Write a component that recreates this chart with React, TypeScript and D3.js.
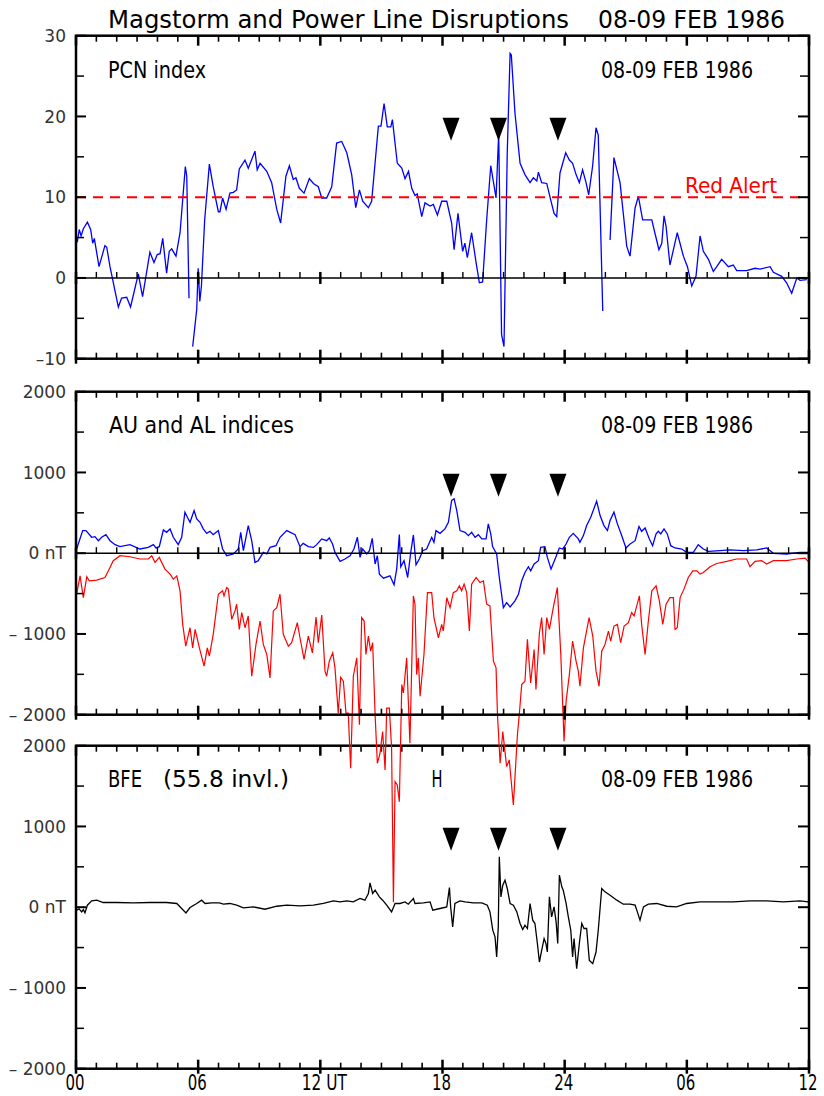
import React from "react";
import * as d3 from "d3";

type Pt = [number, number | null];

// ---- PCN index (hour, value); null = gap
const PCN: Pt[] = [
  [0.06,4.4],[0.16,6.0],[0.25,5.2],[0.36,6.1],[0.56,6.9],[0.72,6.0],[0.82,4.3],[0.9,4.9],[1.13,1.4],[1.42,4.0],[1.51,3.8],[1.67,1.4],[2.08,-3.6],[2.24,-2.5],[2.49,-2.4],[2.68,-3.6],[3.06,0.5],[3.27,-2.3],[3.63,3.2],[3.83,1.9],[3.99,2.9],[4.13,3.0],[4.26,4.9],[4.45,0.6],[4.58,3.3],[4.7,3.6],[4.91,2.7],[5.11,5.6],[5.37,13.8],[5.44,12.6],[5.55,-2.5],[5.64,null],[5.73,-8.5],[5.93,-3.9],[6.0,1.2],[6.08,-2.9],[6.16,-1.0],[6.32,7.2],[6.55,14.1],[6.74,11.3],[6.99,8.2],[7.07,8.2],[7.2,9.9],[7.37,8.5],[7.56,10.5],[7.73,10.6],[7.89,10.9],[8.02,13.5],[8.3,14.6],[8.46,13.6],[8.79,15.7],[8.9,13.4],[9.04,14.2],[9.37,13.2],[9.61,11.8],[9.86,8.5],[10.05,6.8],[10.31,12.6],[10.48,13.9],[10.67,12.2],[10.8,12.4],[10.97,11.1],[11.2,10.5],[11.46,12.3],[11.66,11.7],[11.9,11.3],[12.07,9.9],[12.31,9.9],[12.56,11.3],[12.8,16.7],[13.05,16.9],[13.3,15.5],[13.54,12.8],[13.74,8.7],[13.92,10.9],[14.08,9.5],[14.36,8.7],[14.52,9.5],[14.85,18.8],[14.98,18.8],[15.13,21.6],[15.29,18.7],[15.46,18.7],[15.54,19.6],[15.78,14.2],[16.0,13.6],[16.16,12.3],[16.33,13.2],[16.49,11.1],[16.65,10.2],[16.76,10.4],[16.98,7.6],[17.14,9.3],[17.39,8.9],[17.55,9.1],[17.75,7.8],[17.96,9.5],[18.21,9.5],[18.45,6.8],[18.57,3.5],[18.76,8.0],[18.99,3.3],[19.1,4.3],[19.22,2.5],[19.43,5.6],[19.65,1.9],[19.81,-0.6],[19.97,-0.5],[20.17,7.2],[20.37,13.9],[20.63,9.9],[20.76,17.9],[20.9,-7.0],[21.02,-8.5],[21.18,15.5],[21.32,27.8],[21.38,27.6],[21.56,20.4],[21.81,14.2],[22.05,12.8],[22.3,11.8],[22.46,12.4],[22.63,12.0],[22.71,13.1],[22.87,11.8],[23.12,11.7],[23.31,9.7],[23.48,8.0],[23.61,7.6],[23.77,13.0],[24.05,15.5],[24.23,14.6],[24.39,14.2],[24.56,12.8],[24.72,11.8],[24.88,13.4],[25.05,11.8],[25.18,10.3],[25.37,13.8],[25.54,18.6],[25.65,17.7],[25.87,-4.1],[26.05,null],[26.23,4.7],[26.42,14.9],[26.72,11.8],[27.05,3.9],[27.21,2.7],[27.46,8.7],[27.62,10.1],[27.83,7.2],[28.11,7.2],[28.28,7.2],[28.39,6.0],[28.63,3.5],[28.77,4.3],[28.88,7.7],[28.98,6.4],[29.17,1.6],[29.53,5.6],[29.83,2.7],[30.03,1.4],[30.24,-1.0],[30.45,0.2],[30.65,5.2],[30.81,3.3],[31.06,2.3],[31.3,0.8],[31.47,1.4],[31.71,2.3],[32.04,1.4],[32.28,1.6],[32.45,0.9],[32.94,0.9],[33.35,1.2],[33.6,1.1],[34.09,1.4],[34.25,0.7],[34.66,0.2],[34.9,-0.6],[35.15,-1.9],[35.4,0],[35.56,-0.3],[35.89,-0.2]
];

// ---- AU index (nT)
const AU: Pt[] = [
  [0.03,52],[0.33,280],[0.49,280],[0.77,197],[0.93,205],[1.1,155],[1.26,197],[1.47,230],[1.67,155],[1.92,106],[2.16,81],[2.65,106],[3.14,52],[3.55,72],[3.8,106],[3.93,65],[4.09,81],[4.29,289],[4.45,259],[4.62,301],[4.78,197],[5.02,106],[5.19,197],[5.35,508],[5.47,445],[5.6,383],[5.8,529],[5.93,425],[6.09,383],[6.25,301],[6.42,246],[6.58,271],[6.74,230],[6.99,280],[7.2,52],[7.4,-31],[7.73,-10],[7.97,52],[8.09,259],[8.22,31],[8.46,342],[8.63,155],[8.79,-114],[8.95,-93],[9.2,10],[9.37,-10],[9.53,72],[9.82,93],[10.02,197],[10.35,280],[10.76,230],[11.0,81],[11.16,122],[11.41,81],[11.66,72],[11.82,106],[12.07,177],[12.31,155],[12.44,189],[12.6,114],[12.72,10],[12.97,-102],[13.21,-72],[13.46,-31],[13.65,52],[13.82,197],[13.95,-52],[14.08,52],[14.28,-10],[14.41,31],[14.55,184],[14.69,-134],[14.8,-31],[14.9,-259],[15.1,-309],[15.42,-280],[15.62,-392],[15.75,-197],[15.88,230],[15.95,-168],[16.11,-93],[16.29,-301],[16.44,10],[16.57,226],[16.7,-143],[16.86,-72],[17.03,31],[17.22,52],[17.47,197],[17.58,134],[17.68,280],[17.88,246],[18.12,301],[18.29,383],[18.45,653],[18.57,674],[18.7,529],[18.86,280],[19.11,259],[19.27,218],[19.43,259],[19.6,197],[19.76,230],[19.93,177],[20.14,177],[20.25,363],[20.37,239],[20.46,81],[20.66,-10],[20.79,-301],[20.99,-674],[21.15,-612],[21.32,-665],[21.56,-591],[21.73,-508],[21.89,-342],[22.05,-239],[22.22,-168],[22.33,-218],[22.5,-134],[22.71,-93],[22.82,72],[23.03,81],[23.15,-52],[23.33,-197],[23.53,-72],[23.74,65],[23.9,52],[24.07,114],[24.23,197],[24.42,246],[24.67,177],[24.75,134],[24.92,218],[25.08,342],[25.28,445],[25.57,644],[25.74,466],[25.93,342],[26.1,280],[26.23,404],[26.42,508],[26.59,363],[26.8,218],[27.01,65],[27.21,114],[27.46,155],[27.65,330],[27.78,271],[27.95,313],[28.16,177],[28.32,93],[28.49,239],[28.6,271],[28.72,239],[28.88,301],[29.04,239],[29.21,93],[29.42,65],[29.75,52],[29.99,10],[30.32,10],[30.56,106],[30.81,52],[31.06,22],[31.63,31],[32.12,40],[32.78,31],[33.43,40],[33.92,65],[34.25,-2],[34.9,-10],[35.56,10],[36.0,10]
];

// ---- AL index (nT)
const AL: Pt[] = [
  [0.03,-508],[0.2,-280],[0.36,-550],[0.53,-292],[0.65,-342],[1.02,-334],[1.42,-301],[1.59,-218],[1.83,-93],[2.16,-31],[2.65,-44],[3.14,-72],[3.55,-72],[3.72,-31],[3.88,-114],[4.09,-52],[4.37,-197],[4.62,-259],[4.78,-321],[4.95,-280],[5.11,-466],[5.24,-881],[5.39,-1151],[5.6,-923],[5.73,-1172],[5.85,-943],[6.06,-1172],[6.29,-1399],[6.45,-1172],[6.55,-1275],[6.74,-1005],[6.99,-508],[7.2,-466],[7.27,-529],[7.4,-425],[7.48,-445],[7.65,-819],[7.81,-715],[7.89,-632],[8.02,-943],[8.14,-736],[8.3,-923],[8.46,-777],[8.63,-1524],[8.84,-1130],[9.04,-840],[9.2,-1130],[9.37,-1254],[9.53,-1545],[9.69,-715],[9.86,-674],[10.02,-508],[10.18,-1005],[10.43,-1151],[10.59,-1109],[10.87,-861],[11.0,-1047],[11.2,-1316],[11.41,-1026],[11.61,-1234],[11.79,-790],[11.9,-1109],[12.07,-765],[12.23,-1461],[12.31,-1524],[12.44,-1337],[12.61,-1234],[12.72,-1420],[12.88,-1980],[13.0,-1536],[13.13,-1586],[13.26,-1980],[13.37,-1980],[13.49,-2664],[13.62,-1524],[13.79,-1296],[13.92,-2124],[14.03,-798],[14.15,-840],[14.24,-1254],[14.36,-1026],[14.47,-1213],[14.57,-1109],[14.69,-2000],[14.8,-2602],[14.93,-2478],[15.06,-2208],[15.18,-2684],[15.26,-1918],[15.39,-1918],[15.5,-2415],[15.59,-4322],[15.67,-2830],[15.78,-2871],[15.88,-3078],[16.0,-1627],[16.08,-1731],[16.24,-1296],[16.4,-2353],[16.57,-529],[16.65,-632],[16.73,-1503],[16.81,-1296],[16.9,-1772],[17.09,-1254],[17.26,-488],[17.47,-488],[17.58,-798],[17.8,-1047],[17.96,-881],[18.04,-964],[18.21,-550],[18.37,-674],[18.53,-488],[18.7,-466],[18.83,-404],[18.94,-466],[19.06,-383],[19.19,-488],[19.32,-964],[19.43,-383],[19.65,-301],[19.84,-363],[20.01,-342],[20.17,-632],[20.33,-653],[20.5,-1337],[20.63,-1420],[20.7,-2000],[20.83,-2602],[20.96,-2208],[21.15,-2643],[21.28,-2560],[21.48,-3119],[21.68,-2249],[21.77,-2000],[21.89,-1627],[22.05,-1586],[22.17,-1067],[22.33,-1607],[22.5,-1192],[22.59,-1689],[22.76,-985],[22.87,-798],[22.99,-1254],[23.12,-798],[23.25,-943],[23.44,-674],[23.64,-425],[23.81,-1254],[23.97,-2330],[24.07,-1835],[24.23,-1503],[24.39,-1088],[24.56,-1337],[24.67,-1461],[24.75,-1648],[24.92,-1172],[25.2,-798],[25.38,-1026],[25.54,-1461],[25.69,-1648],[25.82,-1213],[25.98,-1130],[26.15,-964],[26.26,-1088],[26.42,-902],[26.59,-881],[26.75,-1109],[26.92,-902],[27.13,-861],[27.29,-736],[27.41,-777],[27.67,-529],[27.78,-881],[27.95,-1254],[28.11,-840],[28.28,-466],[28.49,-404],[28.65,-591],[28.82,-881],[28.98,-632],[29.17,-550],[29.34,-550],[29.42,-943],[29.53,-923],[29.67,-550],[29.86,-445],[30.07,-301],[30.29,-218],[30.49,-218],[30.65,-259],[30.81,-239],[31.14,-168],[31.47,-127],[31.96,-102],[32.45,-72],[32.94,-72],[33.1,-168],[33.35,-102],[33.68,-93],[33.92,-134],[34.25,-93],[34.9,-93],[35.4,-72],[35.81,-60],[36.0,-114]
];

// ---- BFE H component (nT)
const BFE: Pt[] = [
  [0.03,-37],[0.15,-20],[0.28,-58],[0.36,-30],[0.44,-70],[0.56,25],[0.77,78],[1.02,87],[1.34,58],[2.0,58],[2.81,53],[3.63,58],[4.45,58],[4.95,46],[5.19,-16],[5.4,-71],[5.6,-4],[5.93,46],[6.17,87],[6.34,46],[6.66,53],[7.04,53],[7.24,37],[7.56,46],[7.89,25],[8.22,-9],[8.71,4],[9.28,-25],[9.86,12],[10.35,25],[11.0,16],[11.66,25],[12.15,46],[12.64,78],[12.97,66],[13.3,78],[13.62,66],[13.95,108],[14.19,87],[14.36,170],[14.44,301],[14.57,170],[14.69,211],[14.9,128],[15.06,87],[15.26,25],[15.5,-58],[15.67,46],[15.91,46],[16.16,66],[16.32,37],[16.57,108],[16.65,46],[17.06,53],[17.39,66],[17.52,-37],[17.88,-16],[18.21,4],[18.34,244],[18.4,4],[18.5,-244],[18.61,46],[18.86,78],[19.11,66],[19.51,53],[19.93,53],[20.2,25],[20.33,-58],[20.47,-285],[20.58,-368],[20.66,-617],[20.74,-244],[20.79,624],[20.87,128],[20.96,273],[21.07,335],[21.18,232],[21.32,46],[21.48,25],[21.65,-58],[21.81,-202],[21.94,-277],[22.05,-223],[22.17,-264],[22.3,46],[22.43,-161],[22.54,-202],[22.66,-450],[22.76,-679],[22.87,-534],[22.99,-388],[23.08,-450],[23.15,-555],[23.25,128],[23.36,-120],[23.48,4],[23.58,-182],[23.66,-450],[23.74,397],[23.86,252],[23.93,211],[24.07,46],[24.18,-120],[24.3,-285],[24.39,-617],[24.46,-388],[24.59,-761],[24.72,-450],[24.84,-202],[24.95,-264],[25.08,-264],[25.21,-658],[25.38,-699],[25.54,-555],[25.65,-285],[25.82,232],[25.98,190],[26.23,149],[26.56,87],[26.88,37],[27.21,37],[27.46,25],[27.57,-58],[27.7,-161],[27.87,4],[28.11,37],[28.52,46],[29.01,12],[29.5,4],[29.99,46],[30.65,66],[31.47,66],[32.28,66],[33.1,78],[33.92,78],[34.74,66],[35.56,78],[35.97,66]
];

// ---- markers, thresholds, ticks
const MARKER_HOURS = [18.42, 20.75, 23.67];
const RED_ALERT = 10;
const X_TICK_HOURS = [0, 6, 12, 18, 24, 30, 36];
const X_TICK_LABELS = ["00", "06", "12 UT", "18", "24", "06", "12"];
const PCN_TICKS = [30, 20, 10, 0, -10];
const PCN_TICK_LABELS = ["30", "20", "10", "0", "\u201310"];
const PCN_MINOR = [25, 15, 5, -5];
const NT_TICKS = [2000, 1000, 0, -1000, -2000];
const NT_TICK_LABELS = ["2000", "1000", "0 nT", "\u2013 1000", "\u2013 2000"];
const NT_MINOR = [1500, 500, -500, -1500];

const NARROW = "'Liberation Sans Narrow','Arial Narrow','DejaVu Sans Condensed','Roboto Condensed','Liberation Sans',sans-serif";
const TICKFONT = "'DejaVu Sans','Verdana',sans-serif";

const X0 = 76, X1 = 809;
const PH = 323;

function Panel({ top, domain, ticks, tickLabels, minor, zero, children }: any) {
  const bottom = top + PH;
  const x = d3.scaleLinear().domain([0, 36]).range([X0, X1]);
  const y = d3.scaleLinear().domain(domain).range([bottom, top]);
  const hours = d3.range(0, 37);
  return (
    <g>
      {children(x, y)}
      <rect x={X0} y={top} width={X1 - X0} height={PH} fill="none" stroke="#000" strokeWidth={2.5} />
      {hours.map((h) => {
        const major = h % 6 === 0;
        const xx = x(h);
        return (
          <g key={"xt" + h}>
            <line x1={xx} x2={xx} y1={top} y2={top + (major ? 10 : 6)} stroke="#000" strokeWidth={major ? 2.5 : 1.6} />
            <line x1={xx} x2={xx} y1={bottom - (major ? 9 : 6)} y2={bottom + (major ? 5 : 0)} stroke="#000" strokeWidth={major ? 2.5 : 1.6} />
          </g>
        );
      })}
      {ticks.map((v: number, i: number) => (
        <g key={"yt" + v}>
          <line x1={X0} x2={X0 + 10} y1={y(v)} y2={y(v)} stroke="#000" strokeWidth={2} />
          <line x1={X1 - 11} x2={X1} y1={y(v)} y2={y(v)} stroke="#000" strokeWidth={2} />
          <text x={66} y={y(v)} dy="0.36em" textAnchor="end" fontFamily={TICKFONT} fontSize={17} fill="#333">
            {tickLabels[i]}
          </text>
        </g>
      ))}
      {minor.map((v: number) => (
        <g key={"ym" + v}>
          <line x1={X0} x2={X0 + 8} y1={y(v)} y2={y(v)} stroke="#000" strokeWidth={1.5} />
          <line x1={X1 - 9} x2={X1} y1={y(v)} y2={y(v)} stroke="#000" strokeWidth={1.5} />
        </g>
      ))}
      {zero && (
        <g>
          <line x1={X0} x2={X1} y1={y(0)} y2={y(0)} stroke="#000" strokeWidth={1.4} />
          {hours.map((h) => {
            const major = h % 6 === 0;
            return (
              <line key={"z" + h} x1={x(h)} x2={x(h)} y1={y(0) - 6} y2={y(0) + (major ? 6 : 0)} stroke="#000" strokeWidth={major ? 2.5 : 1.4} />
            );
          })}
        </g>
      )}
      {MARKER_HOURS.map((h) => {
        const cx = x(h);
        const t = top + 82;
        return <path key={"m" + h} d={`M${cx - 8.5},${t}L${cx + 8.5},${t}L${cx},${t + 23}Z`} fill="#000" />;
      })}
    </g>
  );
}

function linePath(x: any, y: any, data: Pt[]) {
  const gen = d3
    .line<Pt>()
    .defined((d) => d[1] !== null)
    .x((d) => x(d[0]))
    .y((d) => y(d[1] as number));
  return gen(data) || "";
}

export default function App() {
  const tops = [35.7, 391.7, 745.7];
  const bottom3 = tops[2] + PH;
  const xs = d3.scaleLinear().domain([0, 36]).range([X0, X1]);
  return (
    <svg width={824} height={1096} style={{ position: "absolute", left: 0, top: 0, background: "#fff" }}>
      <rect x={0} y={0} width={824} height={1096} fill="#fff" />
      <text x={108} y={28} fontFamily={NARROW} fontSize={25} textLength={461} lengthAdjust="spacingAndGlyphs">
        Magstorm and Power Line Disruptions
      </text>
      <text x={598} y={28} fontFamily={NARROW} fontSize={25} textLength={187} lengthAdjust="spacingAndGlyphs">
        08-09 FEB 1986
      </text>

      {/* Panel 1: PCN */}
      <Panel top={tops[0]} domain={[-10, 30]} ticks={PCN_TICKS} tickLabels={PCN_TICK_LABELS} minor={PCN_MINOR} zero={true}>
        {(x: any, y: any) => (
          <g>
            <path d={linePath(x, y, PCN)} fill="none" stroke="#0000ff" strokeWidth={1.3} />
            <line x1={X0} x2={X1} y1={y(RED_ALERT)} y2={y(RED_ALERT)} stroke="#ff0000" strokeWidth={2} strokeDasharray="10,7" />
            <text x={685} y={193.3} fontFamily={NARROW} fontSize={21} fill="#ff0000" textLength={92} lengthAdjust="spacingAndGlyphs">
              Red Alert
            </text>
          </g>
        )}
      </Panel>
      <text x={108} y={77.7} fontFamily={NARROW} fontSize={23} textLength={98} lengthAdjust="spacingAndGlyphs">PCN index</text>
      <text x={601} y={77.7} fontFamily={NARROW} fontSize={23} textLength={152} lengthAdjust="spacingAndGlyphs">08-09 FEB 1986</text>

      {/* Panel 3: BFE (drawn before panel 2 so AL overflow sits on top) */}
      <Panel top={tops[2]} domain={[-2000, 2000]} ticks={NT_TICKS} tickLabels={NT_TICK_LABELS} minor={NT_MINOR} zero={false}>
        {(x: any, y: any) => <path d={linePath(x, y, BFE)} fill="none" stroke="#000" strokeWidth={1.3} />}
      </Panel>
      <text x={108} y={787.3} fontFamily={NARROW} fontSize={23} textLength={34} lengthAdjust="spacingAndGlyphs">BFE</text>
      <text x={163} y={787.3} fontFamily={NARROW} fontSize={23} textLength={126} lengthAdjust="spacingAndGlyphs">(55.8 invl.)</text>
      <text x={431.5} y={787.3} fontFamily={NARROW} fontSize={23} textLength={11} lengthAdjust="spacingAndGlyphs">H</text>
      <text x={601} y={787.3} fontFamily={NARROW} fontSize={23} textLength={152} lengthAdjust="spacingAndGlyphs">08-09 FEB 1986</text>

      {/* Panel 2: AU / AL */}
      <Panel top={tops[1]} domain={[-2000, 2000]} ticks={NT_TICKS} tickLabels={NT_TICK_LABELS} minor={NT_MINOR} zero={true}>
        {(x: any, y: any) => (
          <g>
            <path d={linePath(x, y, AU)} fill="none" stroke="#0000ff" strokeWidth={1.3} />
            <path d={linePath(x, y, AL)} fill="none" stroke="#ff0000" strokeWidth={1.2} />
          </g>
        )}
      </Panel>
      <text x={109} y={432.7} fontFamily={NARROW} fontSize={23} textLength={185} lengthAdjust="spacingAndGlyphs">AU and AL indices</text>
      <text x={601} y={432.7} fontFamily={NARROW} fontSize={23} textLength={152} lengthAdjust="spacingAndGlyphs">08-09 FEB 1986</text>

      {/* x tick labels */}
      {X_TICK_HOURS.map((h, i) => {
        const lab = X_TICK_LABELS[i];
        const wide = lab.length > 2;
        return (
          <text
            key={"xl" + i}
            x={wide ? xs(h) - 18.5 : xs(h) - 1}
            y={bottom3 + 21.5}
            textAnchor={wide ? "start" : "middle"}
            fontFamily={NARROW}
            fontSize={22}
            textLength={wide ? 45 : 19}
            lengthAdjust="spacingAndGlyphs"
          >
            {lab}
          </text>
        );
      })}
    </svg>
  );
}
